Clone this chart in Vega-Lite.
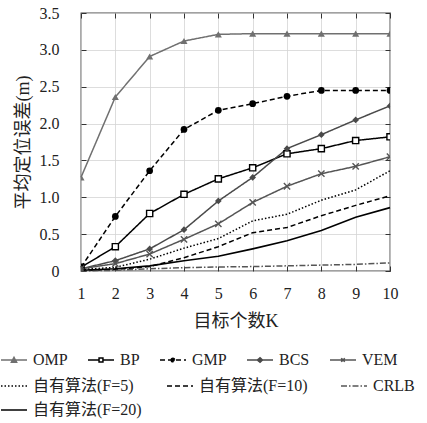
{
  "$schema": "https://vega.github.io/schema/vega-lite/v6.json",
  "width": 309,
  "height": 258,
  "autosize": {"type": "none"},
  "padding": {"left": 81, "top": 13, "right": 37, "bottom": 152},
  "data": {
    "values": [
      {"K": 1, "series": "OMP", "error": 1.27}, {"K": 2, "series": "OMP", "error": 2.36}, {"K": 3, "series": "OMP", "error": 2.91}, {"K": 4, "series": "OMP", "error": 3.12}, {"K": 5, "series": "OMP", "error": 3.21},
      {"K": 6, "series": "OMP", "error": 3.22}, {"K": 7, "series": "OMP", "error": 3.22}, {"K": 8, "series": "OMP", "error": 3.22}, {"K": 9, "series": "OMP", "error": 3.22}, {"K": 10, "series": "OMP", "error": 3.22},
      {"K": 1, "series": "BP", "error": 0.05}, {"K": 2, "series": "BP", "error": 0.33}, {"K": 3, "series": "BP", "error": 0.78}, {"K": 4, "series": "BP", "error": 1.04}, {"K": 5, "series": "BP", "error": 1.25},
      {"K": 6, "series": "BP", "error": 1.40}, {"K": 7, "series": "BP", "error": 1.59}, {"K": 8, "series": "BP", "error": 1.66}, {"K": 9, "series": "BP", "error": 1.77}, {"K": 10, "series": "BP", "error": 1.82},
      {"K": 1, "series": "GMP", "error": 0.05}, {"K": 2, "series": "GMP", "error": 0.74}, {"K": 3, "series": "GMP", "error": 1.36}, {"K": 4, "series": "GMP", "error": 1.92}, {"K": 5, "series": "GMP", "error": 2.18},
      {"K": 6, "series": "GMP", "error": 2.27}, {"K": 7, "series": "GMP", "error": 2.37}, {"K": 8, "series": "GMP", "error": 2.45}, {"K": 9, "series": "GMP", "error": 2.45}, {"K": 10, "series": "GMP", "error": 2.45},
      {"K": 1, "series": "BCS", "error": 0.03}, {"K": 2, "series": "BCS", "error": 0.14}, {"K": 3, "series": "BCS", "error": 0.30}, {"K": 4, "series": "BCS", "error": 0.56}, {"K": 5, "series": "BCS", "error": 0.95},
      {"K": 6, "series": "BCS", "error": 1.27}, {"K": 7, "series": "BCS", "error": 1.66}, {"K": 8, "series": "BCS", "error": 1.85}, {"K": 9, "series": "BCS", "error": 2.05}, {"K": 10, "series": "BCS", "error": 2.24},
      {"K": 1, "series": "VEM", "error": 0.03}, {"K": 2, "series": "VEM", "error": 0.10}, {"K": 3, "series": "VEM", "error": 0.23}, {"K": 4, "series": "VEM", "error": 0.43}, {"K": 5, "series": "VEM", "error": 0.64},
      {"K": 6, "series": "VEM", "error": 0.93}, {"K": 7, "series": "VEM", "error": 1.15}, {"K": 8, "series": "VEM", "error": 1.32}, {"K": 9, "series": "VEM", "error": 1.42}, {"K": 10, "series": "VEM", "error": 1.55},
      {"K": 1, "series": "自有算法(F=5)", "error": 0.02}, {"K": 2, "series": "自有算法(F=5)", "error": 0.05}, {"K": 3, "series": "自有算法(F=5)", "error": 0.16}, {"K": 4, "series": "自有算法(F=5)", "error": 0.31}, {"K": 5, "series": "自有算法(F=5)", "error": 0.44},
      {"K": 6, "series": "自有算法(F=5)", "error": 0.68}, {"K": 7, "series": "自有算法(F=5)", "error": 0.77}, {"K": 8, "series": "自有算法(F=5)", "error": 0.96}, {"K": 9, "series": "自有算法(F=5)", "error": 1.10}, {"K": 10, "series": "自有算法(F=5)", "error": 1.36},
      {"K": 1, "series": "自有算法(F=10)", "error": 0.01}, {"K": 2, "series": "自有算法(F=10)", "error": 0.02}, {"K": 3, "series": "自有算法(F=10)", "error": 0.06}, {"K": 4, "series": "自有算法(F=10)", "error": 0.18}, {"K": 5, "series": "自有算法(F=10)", "error": 0.33},
      {"K": 6, "series": "自有算法(F=10)", "error": 0.52}, {"K": 7, "series": "自有算法(F=10)", "error": 0.59}, {"K": 8, "series": "自有算法(F=10)", "error": 0.75}, {"K": 9, "series": "自有算法(F=10)", "error": 0.89}, {"K": 10, "series": "自有算法(F=10)", "error": 1.02},
      {"K": 1, "series": "CRLB", "error": 0.0}, {"K": 2, "series": "CRLB", "error": 0.01}, {"K": 3, "series": "CRLB", "error": 0.03}, {"K": 4, "series": "CRLB", "error": 0.045}, {"K": 5, "series": "CRLB", "error": 0.055},
      {"K": 6, "series": "CRLB", "error": 0.06}, {"K": 7, "series": "CRLB", "error": 0.07}, {"K": 8, "series": "CRLB", "error": 0.08}, {"K": 9, "series": "CRLB", "error": 0.09}, {"K": 10, "series": "CRLB", "error": 0.11},
      {"K": 1, "series": "自有算法(F=20)", "error": 0.01}, {"K": 2, "series": "自有算法(F=20)", "error": 0.03}, {"K": 3, "series": "自有算法(F=20)", "error": 0.07}, {"K": 4, "series": "自有算法(F=20)", "error": 0.14}, {"K": 5, "series": "自有算法(F=20)", "error": 0.20},
      {"K": 6, "series": "自有算法(F=20)", "error": 0.30}, {"K": 7, "series": "自有算法(F=20)", "error": 0.41}, {"K": 8, "series": "自有算法(F=20)", "error": 0.55}, {"K": 9, "series": "自有算法(F=20)", "error": 0.73}, {"K": 10, "series": "自有算法(F=20)", "error": 0.86}
    ]
  },
  "layer": [
    {
      "encoding": {
        "x": {
          "field": "K", "type": "quantitative",
          "scale": {"domain": [1, 10], "nice": false, "zero": false},
          "axis": {"title": "目标个数K", "values": [1, 2, 3, 4, 5, 6, 7, 8, 9, 10], "format": "d", "labelPadding": 19, "titlePadding": 11}
        },
        "y": {
          "field": "error", "type": "quantitative",
          "scale": {"domain": [0, 3.5], "nice": false},
          "axis": {"title": "平均定位误差(m)", "values": [0, 0.5, 1, 1.5, 2, 2.5, 3, 3.5], "labelExpr": "datum.value == 0 ? '0' : format(datum.value, '.1f')", "labelPadding": 27, "titlePadding": 7}
        }
      },
      "layer": [
        {
          "transform": [{"filter": {"field": "series", "oneOf": ["自有算法(F=5)", "自有算法(F=10)", "CRLB"]}}],
          "mark": {"type": "line", "strokeWidth": 1.5},
          "encoding": {
            "color": {
              "field": "series", "type": "nominal",
              "scale": {"domain": ["自有算法(F=5)", "自有算法(F=10)", "CRLB"], "range": ["#000000", "#000000", "#555555"]},
              "legend": {"orient": "none", "legendX": -81, "legendY": 359, "direction": "horizontal", "title": null, "columnPadding": 30, "symbolType": "stroke"}
            },
            "strokeDash": {
              "field": "series", "type": "nominal",
              "scale": {"domain": ["自有算法(F=5)", "自有算法(F=10)", "CRLB"], "range": [[1.5, 2], [5, 3], [6, 2, 1.5, 2]]},
              "legend": {"orient": "none", "legendX": -81, "legendY": 359, "direction": "horizontal", "title": null, "columnPadding": 30, "symbolType": "stroke"}
            }
          }
        },
        {
          "transform": [{"filter": {"field": "series", "equal": "自有算法(F=20)"}}],
          "mark": {"type": "line", "strokeWidth": 1.6},
          "encoding": {
            "color": {
              "field": "series", "type": "nominal",
              "scale": {"domain": ["自有算法(F=20)"], "range": ["#000000"]},
              "legend": {"orient": "none", "legendX": -81, "legendY": 383, "direction": "horizontal", "title": null, "symbolType": "stroke"}
            }
          }
        },
        {
          "transform": [{"filter": {"field": "series", "oneOf": ["OMP", "BP", "GMP", "BCS", "VEM"]}}],
          "mark": {"type": "line", "strokeWidth": 1.5},
          "encoding": {
            "color": {
              "field": "series", "type": "nominal",
              "scale": {"domain": ["OMP", "BP", "GMP", "BCS", "VEM"], "range": ["#707070", "#000000", "#000000", "#4a4a4a", "#555555"]},
              "legend": {
                "orient": "none", "legendX": -81, "legendY": 333, "direction": "horizontal", "title": null, "columnPadding": 17,
                "encode": {
                  "symbols": {
                    "update": {
                      "shape": {"signal": "datum.value === 'OMP' ? 'M-1,0H1M-0.2,0.17L0,-0.2L0.2,0.17Z' : datum.value === 'BP' ? 'M-1,0H-0.15M0.15,0H1M-0.15,-0.15H0.15V0.15H-0.15Z' : datum.value === 'GMP' ? 'M-1,0H1M-0.14,0A0.14,0.14,0,1,1,0.14,0A0.14,0.14,0,1,1,-0.14,0Z' : datum.value === 'BCS' ? 'M-1,0H1M-0.2,0L0,-0.17L0.2,0L0,0.17Z' : 'M-1,0H1M-0.14,-0.14L0.14,0.14M-0.14,0.14L0.14,-0.14'"},
                      "fill": {"signal": "datum.value === 'BP' ? 'white' : datum.value === 'OMP' ? '#707070' : datum.value === 'BCS' ? '#4a4a4a' : datum.value === 'GMP' ? 'black' : 'transparent'"},
                      "opacity": {"value": 1}
                    }
                  }
                }
              }
            },
            "strokeDash": {
              "field": "series", "type": "nominal",
              "scale": {"domain": ["OMP", "BP", "GMP", "BCS", "VEM"], "range": [[1, 0], [1, 0], [5, 3], [1, 0], [1, 0]]},
              "legend": {"orient": "none", "legendX": -81, "legendY": 333, "direction": "horizontal", "title": null, "columnPadding": 17}
            }
          }
        },
        {
          "transform": [{"filter": {"field": "series", "equal": "OMP"}}],
          "mark": {"type": "point", "shape": "triangle-up", "size": 50, "filled": true, "color": "#707070", "opacity": 1, "clip": true}
        },
        {
          "transform": [{"filter": {"field": "series", "equal": "BP"}}],
          "mark": {"type": "point", "shape": "square", "size": 38, "fill": "#ffffff", "stroke": "#000000", "strokeWidth": 1.4, "opacity": 1, "clip": true}
        },
        {
          "transform": [{"filter": {"field": "series", "equal": "GMP"}}],
          "mark": {"type": "point", "shape": "circle", "size": 45, "filled": true, "color": "#000000", "opacity": 1, "clip": true}
        },
        {
          "transform": [{"filter": {"field": "series", "equal": "BCS"}}],
          "mark": {"type": "point", "shape": "diamond", "size": 45, "filled": true, "color": "#4a4a4a", "opacity": 1, "clip": true}
        },
        {
          "transform": [{"filter": {"field": "series", "equal": "VEM"}}],
          "mark": {"type": "point", "shape": "M-1,-1L1,1M-1,1L1,-1", "size": 40, "filled": false, "stroke": "#555555", "strokeWidth": 1.4, "opacity": 1, "clip": true}
        }
      ],
      "resolve": {"scale": {"color": "independent", "strokeDash": "independent"}}
    },
    {
      "mark": {"type": "point", "opacity": 0},
      "encoding": {
        "x": {
          "field": "K", "type": "quantitative",
          "scale": {"domain": [1, 10], "nice": false, "zero": false},
          "axis": {"orient": "top", "title": null, "labels": false, "grid": false, "values": [1, 2, 3, 4, 5, 6, 7, 8, 9, 10]}
        },
        "y": {
          "field": "error", "type": "quantitative",
          "scale": {"domain": [0, 3.5], "nice": false},
          "axis": {"orient": "right", "title": null, "labels": false, "grid": false, "values": [0, 0.5, 1, 1.5, 2, 2.5, 3, 3.5]}
        }
      }
    }
  ],
  "resolve": {"axis": {"x": "independent", "y": "independent"}},
  "config": {
    "font": "Liberation Serif",
    "view": {"stroke": "#444444", "strokeWidth": 1.3},
    "axis": {
      "labelFont": "Liberation Serif",
      "labelFontSize": 16,
      "labelColor": "#222222",
      "labelFlush": false,
      "labelOverlap": false,
      "labelBound": false,
      "titleFont": "Liberation Serif, Noto Sans CJK SC",
      "titleFontSize": 18,
      "titleFontWeight": "normal",
      "titleColor": "#222222",
      "grid": true,
      "gridColor": "#d4d4d4",
      "gridWidth": 0.8,
      "domain": false,
      "ticks": true,
      "tickColor": "#333333",
      "tickSize": -5,
      "tickWidth": 1
    },
    "legend": {
      "labelFont": "Liberation Serif, Noto Sans CJK SC",
      "labelFontSize": 16,
      "labelColor": "#222222",
      "symbolSize": 676,
      "symbolStrokeWidth": 1.5,
      "labelOffset": 5,
      "padding": 0,
      "rowPadding": 0
    }
  }
}
